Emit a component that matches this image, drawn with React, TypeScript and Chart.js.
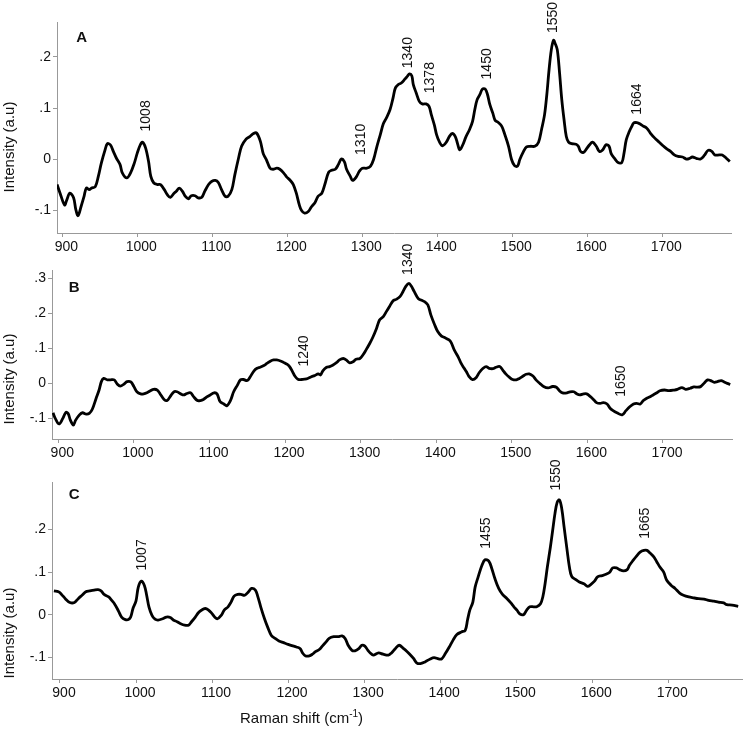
import React, { useEffect, useRef } from "react";
import { Chart, registerables } from "chart.js";

Chart.register(...registerables);

// ---------- data ----------
const X_TICKS = [900, 1000, 1100, 1200, 1300, 1400, 1500, 1600, 1700];

const A_X = [893,897,903,906,910,915,918,921,925,929,932,936,939,944,948,952,957,960,964,968,972,977,980,986,991,996,1000,1004,1007,1011,1015,1018,1022,1027,1031,1036,1040,1044,1049,1052,1056,1060,1064,1068,1072,1077,1081,1086,1090,1095,1099,1104,1108,1112,1117,1121,1126,1130,1135,1139,1145,1150,1155,1159,1164,1168,1172,1177,1181,1186,1190,1195,1199,1204,1208,1212,1216,1219,1223,1228,1232,1237,1241,1246,1250,1255,1259,1264,1268,1272,1276,1279,1284,1287,1292,1296,1300,1306,1311,1315,1319,1324,1328,1332,1337,1341,1344,1348,1352,1357,1360,1363,1366,1368,1372,1376,1380,1385,1389,1392,1396,1399,1403,1407,1412,1416,1420,1424,1427,1430,1434,1438,1443,1447,1450,1453,1457,1460,1464,1467,1470,1474,1477,1481,1486,1490,1495,1499,1503,1507,1510,1515,1519,1524,1530,1535,1539,1543,1546,1549,1552,1555,1557,1560,1563,1566,1569,1572,1575,1579,1585,1588,1591,1595,1598,1603,1607,1612,1616,1620,1625,1629,1632,1637,1641,1646,1649,1652,1656,1659,1662,1667,1670,1674,1679,1684,1690,1696,1701,1706,1711,1716,1721,1727,1732,1736,1740,1746,1751,1756,1761,1766,1770,1776,1780,1785,1790];
const A_Y = [-0.050,-0.067,-0.090,-0.080,-0.067,-0.076,-0.099,-0.111,-0.093,-0.073,-0.057,-0.060,-0.057,-0.054,-0.034,-0.008,0.018,0.030,0.028,0.015,0.002,-0.011,-0.027,-0.037,-0.027,-0.008,0.012,0.028,0.033,0.022,-0.005,-0.034,-0.047,-0.050,-0.050,-0.060,-0.070,-0.075,-0.067,-0.063,-0.057,-0.063,-0.073,-0.078,-0.072,-0.072,-0.076,-0.075,-0.063,-0.050,-0.044,-0.042,-0.046,-0.059,-0.073,-0.073,-0.060,-0.031,0.002,0.025,0.039,0.044,0.050,0.051,0.035,0.010,-0.001,-0.018,-0.020,-0.018,-0.020,-0.027,-0.035,-0.042,-0.050,-0.067,-0.090,-0.101,-0.106,-0.103,-0.094,-0.085,-0.073,-0.067,-0.050,-0.026,-0.022,-0.020,-0.011,0.000,-0.005,-0.020,-0.034,-0.042,-0.035,-0.024,-0.018,-0.018,-0.014,-0.001,0.022,0.048,0.069,0.080,0.097,0.120,0.139,0.146,0.149,0.157,0.162,0.167,0.163,0.146,0.129,0.113,0.108,0.108,0.103,0.087,0.067,0.048,0.033,0.026,0.033,0.044,0.050,0.044,0.030,0.018,0.028,0.043,0.058,0.074,0.097,0.116,0.127,0.137,0.137,0.126,0.107,0.090,0.076,0.072,0.064,0.048,0.025,-0.001,-0.013,-0.014,-0.001,0.015,0.024,0.025,0.025,0.033,0.058,0.087,0.126,0.175,0.214,0.233,0.227,0.214,0.169,0.116,0.077,0.044,0.033,0.030,0.029,0.025,0.015,0.013,0.018,0.028,0.033,0.025,0.015,0.017,0.028,0.025,0.010,0.000,-0.007,-0.007,0.012,0.038,0.054,0.063,0.071,0.071,0.069,0.065,0.061,0.051,0.041,0.033,0.026,0.020,0.015,0.008,0.005,0.004,0.000,0.001,0.004,0.001,0.000,0.007,0.017,0.015,0.008,0.008,0.008,0.002,-0.005];

const B_X = [893,896,901,906,910,913,916,920,923,928,932,937,941,945,950,954,957,960,965,969,974,978,982,987,991,996,1000,1004,1009,1013,1018,1022,1026,1031,1035,1040,1044,1048,1053,1057,1062,1066,1070,1075,1079,1084,1088,1092,1097,1101,1106,1110,1114,1119,1123,1128,1132,1137,1141,1145,1150,1154,1159,1163,1167,1172,1176,1181,1185,1189,1194,1198,1203,1206,1210,1213,1217,1222,1226,1230,1235,1239,1244,1247,1250,1255,1259,1263,1268,1272,1277,1281,1285,1290,1294,1299,1303,1307,1312,1316,1321,1325,1330,1334,1338,1343,1347,1352,1356,1360,1364,1367,1371,1376,1380,1385,1389,1393,1398,1402,1407,1411,1417,1420,1424,1429,1433,1437,1440,1443,1448,1453,1457,1462,1466,1470,1475,1479,1484,1488,1492,1497,1501,1506,1510,1515,1519,1523,1528,1532,1537,1542,1548,1554,1559,1563,1567,1573,1577,1582,1586,1590,1595,1599,1604,1608,1612,1617,1621,1626,1630,1634,1639,1646,1651,1656,1661,1665,1670,1674,1678,1683,1687,1692,1696,1702,1708,1715,1719,1725,1730,1736,1741,1746,1750,1755,1759,1763,1768,1772,1777,1781,1785,1789];
const B_Y = [-0.085,-0.101,-0.117,-0.101,-0.084,-0.087,-0.106,-0.120,-0.106,-0.091,-0.085,-0.089,-0.087,-0.075,-0.044,-0.020,0.004,0.013,0.009,0.009,0.009,-0.003,-0.009,-0.003,0.004,0.003,-0.010,-0.025,-0.031,-0.031,-0.027,-0.022,-0.018,-0.020,-0.032,-0.047,-0.050,-0.039,-0.025,-0.025,-0.031,-0.034,-0.030,-0.028,-0.039,-0.050,-0.050,-0.047,-0.039,-0.034,-0.028,-0.031,-0.053,-0.060,-0.065,-0.049,-0.025,-0.006,0.009,0.010,0.007,0.018,0.035,0.042,0.045,0.050,0.056,0.063,0.066,0.066,0.063,0.059,0.053,0.047,0.032,0.020,0.011,0.010,0.011,0.013,0.018,0.021,0.026,0.023,0.035,0.045,0.047,0.051,0.058,0.066,0.070,0.066,0.058,0.061,0.068,0.070,0.080,0.094,0.113,0.130,0.156,0.180,0.190,0.204,0.218,0.235,0.239,0.247,0.261,0.277,0.285,0.277,0.261,0.242,0.237,0.232,0.223,0.194,0.166,0.147,0.134,0.130,0.123,0.115,0.094,0.075,0.056,0.042,0.032,0.020,0.010,0.016,0.030,0.042,0.047,0.042,0.041,0.045,0.047,0.037,0.026,0.016,0.010,0.009,0.013,0.020,0.025,0.026,0.020,0.009,-0.001,-0.010,-0.014,-0.010,-0.012,-0.022,-0.028,-0.028,-0.025,-0.025,-0.031,-0.034,-0.031,-0.031,-0.039,-0.047,-0.056,-0.058,-0.056,-0.060,-0.072,-0.079,-0.085,-0.091,-0.079,-0.068,-0.060,-0.058,-0.060,-0.050,-0.044,-0.039,-0.034,-0.028,-0.022,-0.020,-0.022,-0.020,-0.018,-0.013,-0.018,-0.015,-0.011,-0.012,-0.010,0.001,0.009,0.007,0.002,0.004,0.007,0.003,-0.001,-0.004];

const C_X = [892,898,902,907,913,919,924,929,934,939,945,950,954,958,964,968,972,977,981,986,990,993,996,1000,1003,1007,1011,1014,1017,1021,1025,1029,1035,1040,1045,1049,1054,1058,1064,1069,1073,1078,1082,1086,1091,1095,1100,1104,1107,1112,1116,1121,1125,1129,1134,1138,1143,1148,1152,1157,1160,1164,1169,1173,1178,1183,1188,1194,1200,1205,1211,1216,1219,1223,1228,1232,1236,1241,1245,1250,1254,1260,1266,1271,1275,1279,1284,1288,1293,1297,1301,1305,1308,1312,1319,1325,1332,1336,1341,1346,1352,1356,1360,1365,1369,1374,1380,1387,1392,1398,1402,1407,1412,1417,1422,1428,1433,1436,1439,1443,1446,1450,1455,1459,1464,1468,1472,1477,1482,1488,1493,1497,1501,1505,1510,1514,1518,1523,1527,1532,1535,1538,1541,1545,1548,1551,1554,1557,1560,1563,1567,1570,1573,1578,1583,1589,1594,1598,1603,1607,1613,1618,1623,1627,1632,1636,1641,1646,1649,1654,1658,1663,1668,1672,1676,1681,1685,1689,1694,1698,1704,1709,1715,1720,1727,1733,1740,1747,1753,1760,1766,1773,1777,1784,1792];
const C_Y = [0.056,0.054,0.048,0.038,0.029,0.029,0.038,0.046,0.054,0.056,0.058,0.059,0.056,0.048,0.042,0.034,0.025,0.009,-0.005,-0.011,-0.011,-0.005,0.015,0.033,0.065,0.079,0.069,0.046,0.019,-0.001,-0.010,-0.012,-0.009,-0.005,-0.006,-0.012,-0.016,-0.020,-0.024,-0.024,-0.016,-0.005,0.005,0.011,0.015,0.012,0.003,-0.006,-0.009,-0.001,0.011,0.019,0.030,0.044,0.048,0.048,0.046,0.054,0.062,0.058,0.044,0.019,-0.009,-0.028,-0.048,-0.055,-0.061,-0.065,-0.069,-0.072,-0.075,-0.079,-0.089,-0.096,-0.096,-0.092,-0.086,-0.081,-0.073,-0.063,-0.055,-0.051,-0.051,-0.049,-0.055,-0.071,-0.083,-0.084,-0.079,-0.071,-0.073,-0.083,-0.089,-0.094,-0.089,-0.092,-0.094,-0.089,-0.079,-0.071,-0.079,-0.085,-0.092,-0.102,-0.112,-0.114,-0.110,-0.103,-0.100,-0.103,-0.103,-0.090,-0.075,-0.059,-0.046,-0.040,-0.036,-0.012,0.011,0.030,0.065,0.089,0.116,0.129,0.126,0.108,0.085,0.062,0.048,0.038,0.028,0.019,0.011,0.002,0.001,0.012,0.019,0.019,0.019,0.026,0.042,0.073,0.112,0.159,0.198,0.237,0.264,0.269,0.248,0.206,0.151,0.112,0.090,0.083,0.077,0.073,0.067,0.071,0.079,0.089,0.092,0.095,0.100,0.110,0.110,0.106,0.103,0.106,0.116,0.128,0.137,0.147,0.151,0.151,0.145,0.136,0.124,0.112,0.100,0.081,0.069,0.062,0.051,0.046,0.042,0.040,0.038,0.037,0.034,0.032,0.030,0.028,0.024,0.023,0.020];

const A_Y_TICKS = [-0.1, 0, 0.1, 0.2];
const A_Y_TICK_LABELS = ["-.1", "0", ".1", ".2"];
const B_Y_TICKS = [-0.1, 0, 0.1, 0.2, 0.3];
const B_Y_TICK_LABELS = ["-.1", "0", ".1", ".2", ".3"];
const C_Y_TICKS = [-0.1, 0, 0.1, 0.2];
const C_Y_TICK_LABELS = ["-.1", "0", ".1", ".2"];

const A_PEAK_LABELS = ["1008", "1310", "1340", "1378", "1450", "1550", "1664"];
const A_PEAK_X = [1012, 1298, 1361, 1390, 1466, 1555, 1667];
const A_PEAK_Y = [0.054, 0.008, 0.178, 0.129, 0.156, 0.247, 0.087];
const B_PEAK_LABELS = ["1240", "1340", "1650"];
const B_PEAK_X = [1225, 1363, 1645];
const B_PEAK_Y = [0.047, 0.309, -0.039];
const C_PEAK_LABELS = ["1007", "1455", "1550", "1665"];
const C_PEAK_X = [1008, 1461, 1553, 1670];
const C_PEAK_Y = [0.104, 0.155, 0.291, 0.178];

const Y_TITLE = "Intensity (a.u)";
const FONT = '"Liberation Sans", Arial, Helvetica, sans-serif';

// ---------- panel configs ----------
const PANELS = [
  {
    letter: "A", xs: A_X, ys: A_Y, yTicks: A_Y_TICKS, yLabels: A_Y_TICK_LABELS,
    peaks: A_PEAK_LABELS, peakX: A_PEAK_X, peakY: A_PEAK_Y,
    xMin: 892.9, xMax: 1791.6, yMin: -0.145, yMax: 0.2686,
    canvasTop: 0, h: 255, top: 22, xh: 22, left: 57, right: 13,
    letterDx: 24.7, letterDy: 16.3, titleX: 10, titleY: 147,
  },
  {
    letter: "B", xs: B_X, ys: B_Y, yTicks: B_Y_TICKS, yLabels: B_Y_TICK_LABELS,
    peaks: B_PEAK_LABELS, peakX: B_PEAK_X, peakY: B_PEAK_Y,
    xMin: 891.7, xMax: 1791.3, yMin: -0.16, yMax: 0.323,
    canvasTop: 230, h: 240, top: 40, xh: 31, left: 52, right: 12,
    letterDx: 22.2, letterDy: 18.3, titleX: 10, titleY: 149,
  },
  {
    letter: "C", xs: C_X, ys: C_Y, yTicks: C_Y_TICKS, yLabels: C_Y_TICK_LABELS,
    peaks: C_PEAK_LABELS, peakX: C_PEAK_X, peakY: C_PEAK_Y,
    xMin: 889.5, xMax: 1797, yMin: -0.150, yMax: 0.311,
    canvasTop: 455, h: 280, top: 27, xh: 56, left: 52, right: 2,
    letterDx: 22.2, letterDy: 13, titleX: 10, titleY: 178,
  },
];

const decoPlugin = {
  id: "panelDeco",
  afterDatasetsDraw(chart: any, _args: any, o: any) {
    const ctx = chart.ctx;
    const xs = chart.scales.x;
    const ys = chart.scales.y;
    ctx.save();
    ctx.fillStyle = "#111";
    ctx.font = `14px ${FONT}`;
    (o.peaks || []).forEach((t: string, i: number) => {
      const px = xs.getPixelForValue(o.peakX[i]);
      const py = ys.getPixelForValue(o.peakY[i]);
      ctx.save();
      ctx.translate(px, py);
      ctx.rotate(-Math.PI / 2);
      ctx.textAlign = "left";
      ctx.textBaseline = "middle";
      ctx.fillText(t, 0, 0);
      ctx.restore();
    });
    ctx.font = `bold 15px ${FONT}`;
    ctx.textAlign = "center";
    ctx.textBaseline = "middle";
    ctx.fillText(o.letter, chart.chartArea.left + o.letterDx, chart.chartArea.top + o.letterDy);
    ctx.font = `15px ${FONT}`;
    ctx.save();
    ctx.translate(o.titleX, o.titleY);
    ctx.rotate(-Math.PI / 2);
    ctx.textAlign = "center";
    ctx.textBaseline = "middle";
    ctx.fillText(Y_TITLE, 0, 0);
    ctx.restore();
    ctx.restore();
  },
};

function Panel({ cfg }: { cfg: any }) {
  const ref = useRef<HTMLCanvasElement>(null);
  useEffect(() => {
    const chart = new Chart(ref.current as HTMLCanvasElement, {
      type: "line",
      data: {
        datasets: [
          {
            data: cfg.xs.map((x: number, i: number) => ({ x, y: cfg.ys[i] })),
            borderColor: "#000",
            borderWidth: 2.8,
            pointRadius: 0,
            tension: 0.35,
            fill: false,
          },
        ],
      },
      options: {
        animation: false,
        responsive: false,
        maintainAspectRatio: false,
        events: [],
        layout: { padding: { top: cfg.top, right: cfg.right, left: 0, bottom: 0 } },
        plugins: {
          legend: { display: false },
          tooltip: { enabled: false },
          panelDeco: {
            letter: cfg.letter, peaks: cfg.peaks, peakX: cfg.peakX, peakY: cfg.peakY,
            letterDx: cfg.letterDx, letterDy: cfg.letterDy, titleX: cfg.titleX, titleY: cfg.titleY,
          },
        } as any,
        scales: {
          x: {
            type: "linear",
            min: cfg.xMin,
            max: cfg.xMax,
            afterBuildTicks: (s: any) => {
              s.ticks = X_TICKS.map((v) => ({ value: v }));
            },
            afterFit: (s: any) => {
              s.height = cfg.xh;
            },
            ticks: {
              autoSkip: false,
              maxRotation: 0,
              padding: 2,
              labelOffset: 4,
              color: "#111",
              font: { family: FONT, size: 14 },
              callback: (v: any) => String(v),
            },
            grid: { drawOnChartArea: false, color: "#999", tickLength: 4 },
            border: { display: true, color: "#999", width: 1 },
          },
          y: {
            type: "linear",
            min: cfg.yMin,
            max: cfg.yMax,
            afterBuildTicks: (s: any) => {
              s.ticks = cfg.yTicks.map((v: number) => ({ value: v }));
            },
            afterFit: (s: any) => {
              s.width = cfg.left;
            },
            ticks: {
              autoSkip: false,
              padding: 2,
              color: "#111",
              font: { family: FONT, size: 14 },
              callback: (v: any) => {
                const i = cfg.yTicks.findIndex((t: number) => Math.abs(t - v) < 1e-9);
                return i >= 0 ? cfg.yLabels[i] : "";
              },
            },
            grid: { drawOnChartArea: false, color: "#999", tickLength: 4 },
            border: { display: true, color: "#999", width: 1 },
          },
        },
      },
      plugins: [decoPlugin as any],
    } as any);
    return () => chart.destroy();
  }, []);
  return (
    <canvas
      ref={ref}
      width={744}
      height={cfg.h}
      style={{ position: "absolute", left: 0, top: cfg.canvasTop, width: 744, height: cfg.h }}
    />
  );
}

export default function App() {
  return (
    <div style={{ position: "absolute", left: 0, top: 0, width: 744, height: 735, background: "#fff", overflow: "hidden" }}>
      {PANELS.map((p) => (
        <Panel key={p.letter} cfg={p} />
      ))}
      <div
        style={{
          position: "absolute",
          left: 240,
          top: 709,
          font: `15px ${FONT}`,
          lineHeight: "18px",
          color: "#111",
          whiteSpace: "nowrap",
        }}
      >
        Raman shift (cm<sup style={{ fontSize: "10px", lineHeight: 0 }}>-1</sup>)
      </div>
    </div>
  );
}
